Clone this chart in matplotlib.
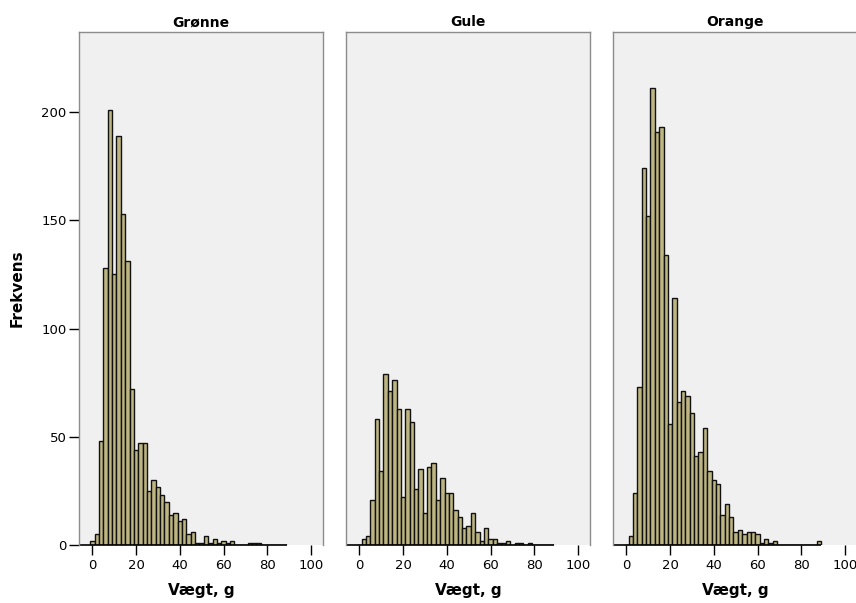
import matplotlib.pyplot as plt
import numpy as np

# Histogram counts, 2 g bins centred on even weights: [-1,1), [1,3), ..., [87,89)
bin_edges = np.arange(-1, 91, 2)

groenne = [2, 5, 48, 128, 201, 125, 189, 153, 131, 72, 44, 47, 47, 25, 30,
           27, 23, 20, 14, 15, 11, 12, 5, 6, 1, 1, 4, 1, 3, 1,
           2, 1, 2, 0, 0, 0, 1, 1, 1, 0, 0, 0, 0, 0, 0]
gule = [0, 3, 4, 21, 58, 34, 79, 71, 76, 63, 22, 63, 57, 26, 35,
        15, 36, 38, 21, 31, 24, 24, 16, 13, 8, 9, 15, 6, 2, 8,
        3, 3, 1, 1, 2, 0, 1, 1, 0, 1, 0, 0, 0, 0, 0]
orange = [0, 4, 24, 73, 174, 152, 211, 191, 193, 134, 56, 114, 66, 71, 69,
          61, 41, 43, 54, 34, 30, 28, 14, 19, 13, 6, 7, 5, 6, 6,
          5, 1, 3, 1, 2, 0, 0, 0, 0, 0, 0, 0, 0, 0, 2]

titles = ['Grønne', 'Gule', 'Orange']
series = [groenne, gule, orange]
xticks = [0, 20, 40, 60, 80, 100]
yticks = [0, 50, 100, 150, 200]

fig = plt.figure(figsize=(8.56, 6.03), dpi=100)
W, H = 856, 603

# panel boxes in pixels: left, top, width, height
lefts = [79, 346, 613]
top, bottom = 32, 545
pw = 244

bar_fill = '#BDB582'
xmin, xmax = -6.1, 105.5
for i, (title, counts) in enumerate(zip(titles, series)):
    ax = fig.add_axes([lefts[i]/W, (H-bottom)/H, pw/W, (bottom-top)/H])
    ax.set_facecolor('#F0F0F0')
    ax.bar(bin_edges[:-1], counts, width=2, align='edge', color=bar_fill,
           edgecolor='#111111', linewidth=1.0)
    # baseline under the bars, running across the data range
    ax.plot([xmin, bin_edges[-1]], [0, 0], color='black', lw=1.2,
            solid_capstyle='butt', clip_on=False)
    ax.set_xlim(xmin, xmax)
    ax.set_ylim(0, 237)
    for s in ['left', 'right', 'top']:
        ax.spines[s].set_color('#8C8C8C')
        ax.spines[s].set_linewidth(1.0)
    ax.spines['bottom'].set_visible(False)
    ax.set_xticks(xticks)
    ax.tick_params(axis='x', length=7, width=1, color='black',
                   labelsize=9.5, pad=3)
    if i == 0:
        ax.set_yticks(yticks)
        ax.tick_params(axis='y', length=7, width=1, color='black',
                       labelsize=9.5, pad=2)
        ax.set_ylabel('Frekvens', fontsize=11, fontweight='bold', labelpad=12)
    else:
        ax.set_yticks([])
    ax.set_xlabel('Vægt, g', fontsize=11, fontweight='bold', labelpad=8)
    ax.set_title(title, fontsize=10, fontweight='bold', pad=4)

fig.savefig('out.png', dpi=100)
